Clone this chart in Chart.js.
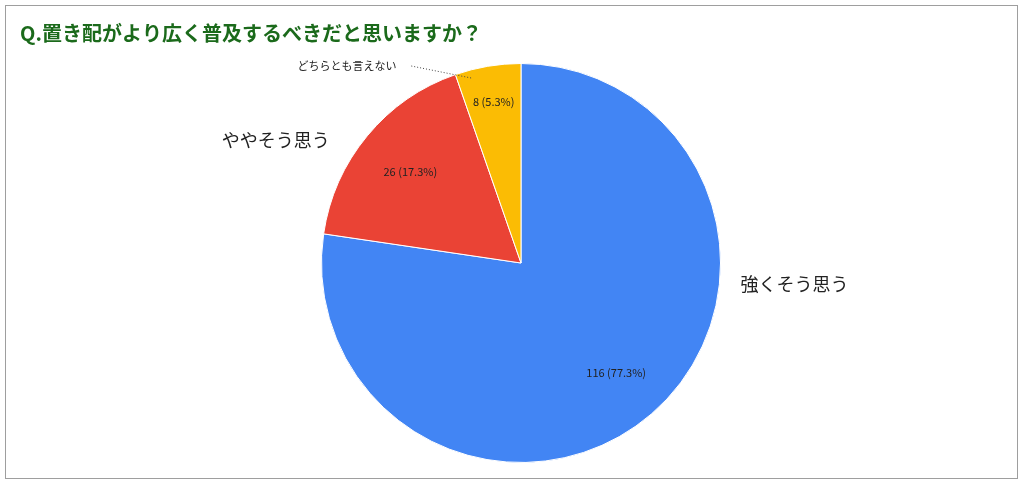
<!DOCTYPE html>
<html><head><meta charset="utf-8">
<script src="https://cdn.jsdelivr.net/npm/chart.js@4"></script>
<style>html,body{margin:0;padding:0;background:#fff}#w{width:1024px;height:484px;position:relative}</style>
</head><body><div id="w"><canvas id="c" width="1024" height="484"></canvas></div>
<script>
const title = "Q.置き配がより広く普及するべきだと思いますか？";
const categories = ["強くそう思う", "ややそう思う", "どちらとも言えない"];
const values = [116, 26, 8];
const colors = ["#4285f4", "#ea4335", "#fbbc04"];
const total = values.reduce((a,b)=>a+b,0);
const FONT = '"Noto Sans CJK JP", "Noto Sans", sans-serif';

const deco = {
  id: 'deco',
  afterDraw(chart) {
    const ctx = chart.ctx;
    ctx.save();
    ctx.strokeStyle = '#9e9e9e'; ctx.lineWidth = 1;
    ctx.strokeRect(5.5, 5.5, 1012, 473);
    ctx.fillStyle = '#1b6a1b';
    ctx.font = 'bold 20px ' + FONT;
    ctx.textBaseline = 'middle'; ctx.textAlign = 'left';
    ctx.fillText(title, 20, 33);
    const arcs = chart.getDatasetMeta(0).data;
    const fr = [0.73, 0.72, 0.82];
    ctx.font = '11px ' + FONT; ctx.fillStyle = '#222'; ctx.textAlign = 'center';
    arcs.forEach((a, i) => {
      const mid = (a.startAngle + a.endAngle) / 2;
      const r = a.outerRadius * fr[i];
      const pct = (values[i] / total * 100).toFixed(1);
      ctx.fillText(values[i] + ' (' + pct + '%)', a.x + Math.cos(mid) * r, a.y + Math.sin(mid) * r);
    });
    const a0 = arcs[0], R = a0.outerRadius, cx = a0.x, cy = a0.y;
    ctx.font = '18px ' + FONT; ctx.fillStyle = '#222'; ctx.textAlign = 'left';
    ctx.fillText(categories[0], cx + R + 20, cy + 21);
    ctx.fillText(categories[1], cx - 1.5 * R, cy - 123);
    ctx.font = '11px ' + FONT;
    ctx.fillText(categories[2], cx - 1.12 * R, cy - 197);
    ctx.setLineDash([1, 2]); ctx.strokeStyle = '#444';
    ctx.beginPath(); ctx.moveTo(cx - 0.55 * R, cy - 197); ctx.lineTo(cx - 0.25 * R, cy - 185); ctx.stroke();
    ctx.restore();
  }
};

new Chart(document.getElementById('c'), {
  type: 'pie',
  data: { labels: categories, datasets: [{ data: values, backgroundColor: colors, borderColor: '#fff', borderWidth: 1 }] },
  options: {
    responsive: false, animation: false,
    layout: { padding: { top: 63, bottom: 21, left: 321, right: 303 } },
    plugins: { legend: { display: false }, tooltip: { enabled: false } }
  },
  plugins: [deco]
});
</script></body></html>
